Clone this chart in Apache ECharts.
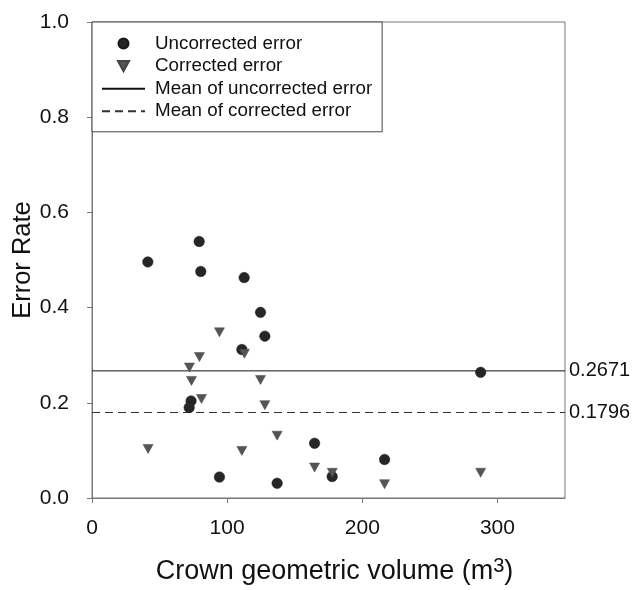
<!DOCTYPE html>
<html>
<head>
<meta charset="utf-8">
<script src="https://cdn.jsdelivr.net/npm/echarts@6/dist/echarts.min.js"></script>
<style>html,body{margin:0;padding:0;background:#fff;}#c{width:633px;height:590px;}</style>
</head>
<body>
<div id="c"></div>
<script>
const uncX = [41.3, 79.3, 80.5, 112.6, 124.7, 127.9, 110.9, 73.3, 71.9, 94.3, 137.0, 164.7, 177.7, 216.5, 287.6];
const uncY = [0.496, 0.539, 0.476, 0.463, 0.390, 0.340, 0.312, 0.204, 0.190, 0.044, 0.031, 0.115, 0.045, 0.081, 0.264];
const corX = [41.5, 72.1, 73.6, 79.5, 81.0, 94.3, 110.9, 112.8, 124.7, 127.9, 137.0, 164.7, 177.8, 216.5, 287.6];
const corY = [0.103, 0.274, 0.246, 0.296, 0.208, 0.348, 0.099, 0.303, 0.248, 0.195, 0.131, 0.064, 0.053, 0.029, 0.053];
const meanUnc = 0.2671;
const meanCor = 0.1796;
const xTicks = [0, 100, 200, 300];
const xRange = [0, 350];
const names = ['Uncorrected error', 'Corrected error', 'Mean of uncorrected error', 'Mean of corrected error'];

const tri = 'path://M0,0 L10,0 L5,9 Z';
const font = 'Liberation Sans, Arial, sans-serif';
const chart = echarts.init(document.getElementById('c'));
chart.setOption({
  animation: false,
  backgroundColor: '#fff',
  textStyle: { fontFamily: font },
  grid: { left: 92, right: 68, top: 22, bottom: 92, show: true, borderColor: '#777', borderWidth: 1,
          containLabel: false, outerBoundsMode: 'none' },
  legend: {
    orient: 'vertical', left: 92, top: 22,
    padding: [12, 10, 11, 9],
    borderColor: '#444', borderWidth: 1, backgroundColor: '#fff',
    itemWidth: 43, itemHeight: 10, itemGap: 3.6,
    textStyle: { fontSize: 18.8, color: '#111', lineHeight: 18, padding: [0, 0, 0, 5], fontFamily: font },
    data: [
      { name: names[0], icon: 'circle' },
      { name: names[1], icon: tri },
      { name: names[2], itemStyle: { opacity: 0 } },
      { name: names[3], itemStyle: { opacity: 0 } }
    ]
  },
  xAxis: {
    type: 'value', min: xRange[0], max: xRange[1],
    name: 'Crown geometric volume (m{sup|3})', nameLocation: 'middle', nameGap: 58,
    nameTextStyle: { fontSize: 27, color: '#111', fontFamily: font, padding: [0, 0, 0, 12],
      rich: { sup: { fontSize: 20, verticalAlign: 'top', padding: [0, 0, 11, 0], color: '#111', fontFamily: font } } },
    axisLine: { show: true, lineStyle: { color: '#777', width: 1 } },
    axisTick: { show: true, inside: false, length: 5, lineStyle: { color: '#777' }, customValues: xTicks },
    axisLabel: { fontSize: 21, color: '#111', margin: 20, customValues: xTicks },
    splitLine: { show: false }
  },
  yAxis: {
    type: 'value', min: 0, max: 1, interval: 0.2,
    name: 'Error Rate', nameLocation: 'middle', nameGap: 56, nameRotate: 90, nameMoveOverlap: false,
    nameTextStyle: { fontSize: 25.5, color: '#111', fontFamily: font },
    axisLine: { show: true, lineStyle: { color: '#777', width: 1 } },
    axisTick: { show: true, inside: false, length: 5, lineStyle: { color: '#777' } },
    axisLabel: { fontSize: 21, color: '#111', margin: 23, formatter: v => v.toFixed(1) },
    splitLine: { show: false }
  },
  series: [
    {
      name: names[0], type: 'scatter', symbol: 'circle', symbolSize: 10.5,
      itemStyle: { color: '#262626', borderColor: '#1a1a1a', borderWidth: 0.5, opacity: 1 },
      data: uncX.map((x, i) => [x, uncY[i]]), z: 3
    },
    {
      name: names[1], type: 'scatter', symbol: tri, symbolSize: [10, 9],
      itemStyle: { color: '#555', borderColor: '#444', borderWidth: 0.5, opacity: 1 },
      data: corX.map((x, i) => [x, corY[i]]), z: 4
    },
    {
      name: names[2], type: 'line', symbol: 'none', showSymbol: false,
      lineStyle: { color: '#111', width: 1, type: 'solid' }, itemStyle: { color: '#111' },
      data: [[xRange[0], meanUnc], [xRange[1], meanUnc]],
      endLabel: { show: true, formatter: () => meanUnc.toFixed(4), fontSize: 20, color: '#111', distance: 4, fontFamily: font },
      z: 2
    },
    {
      name: names[3], type: 'line', symbol: 'none', showSymbol: false,
      lineStyle: { color: '#333', width: 1, type: [8, 5] }, itemStyle: { color: '#333' },
      data: [[xRange[0], meanCor], [xRange[1], meanCor]],
      endLabel: { show: true, formatter: () => meanCor.toFixed(4), fontSize: 20, color: '#111', distance: 4, fontFamily: font },
      z: 2
    }
  ]
});
</script>
</body>
</html>
